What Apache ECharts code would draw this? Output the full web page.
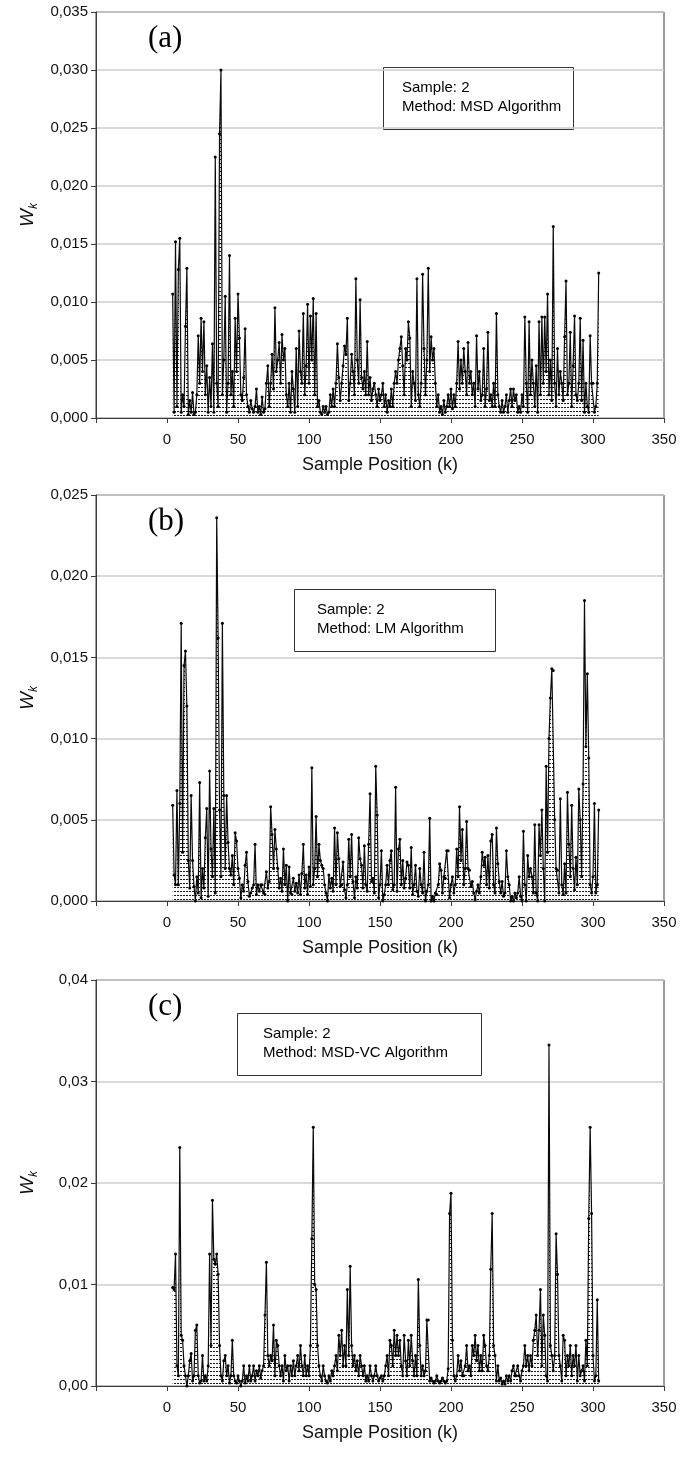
<!DOCTYPE html>
<html>
<head>
<meta charset="utf-8">
<script src="https://cdn.jsdelivr.net/npm/echarts@6/dist/echarts.min.js"></script>
<style>
  html, body { margin: 0; padding: 0; background: #fff; }
  #chart { width: 682px; height: 1458px; }
</style>
</head>
<body>
<div id="chart"></div>
<script>
// Sample positions run from K_START, one weight per sample.
const K_START = 4;

// Weights W_k in units of 1e-3, one value per sample position k = 4 .. 304.
const wkMsd = [
  10.7,0.5,15.2,1.0,12.8,15.5,0.5,2.0,1.0,7.9,
  12.9,0.3,1.5,0.5,2.2,0.3,0.5,2.0,7.1,3.0,
  8.6,4.0,8.3,2.0,4.5,0.5,3.5,1.0,6.4,0.5,
  22.5,3.0,1.0,24.5,30.0,2.0,5.0,10.5,0.5,3.0,
  14.0,2.0,4.0,1.0,8.6,4.0,10.7,6.9,2.0,1.5,
  3.5,7.7,2.0,1.0,0.5,1.5,0.8,0.5,1.0,2.5,
  0.5,1.0,0.3,1.8,0.5,0.8,3.0,4.5,1.0,3.0,
  5.5,2.5,9.5,4.0,5.0,6.5,3.0,7.2,5.0,6.0,
  2.0,1.0,3.0,0.5,4.0,2.5,0.5,6.0,1.0,7.5,
  4.0,3.0,9.0,2.0,4.5,9.8,3.0,8.8,5.0,10.3,
  2.0,9.0,1.0,1.5,0.5,0.3,1.0,0.5,1.0,0.3,
  0.5,2.0,1.0,2.5,1.0,3.0,6.4,3.5,1.5,3.0,
  4.5,6.2,5.5,8.6,1.5,3.0,5.5,4.0,2.0,12.0,
  5.0,3.0,10.2,3.5,2.5,4.0,2.0,6.6,2.0,3.5,
  1.5,2.5,3.0,2.0,1.0,2.5,1.5,2.0,3.0,1.0,
  2.0,0.5,1.5,1.0,2.5,1.0,3.0,4.0,3.0,5.0,
  6.0,7.0,4.5,2.0,6.0,5.0,8.3,6.9,1.0,4.0,
  3.0,1.5,12.0,2.0,1.0,3.0,12.4,6.0,2.0,5.0,
  12.9,4.0,7.0,5.0,6.0,3.0,1.0,2.0,0.5,1.0,
  0.3,1.5,0.5,1.0,2.0,1.0,2.5,0.8,2.0,1.0,
  3.0,6.6,2.5,5.0,3.0,6.0,4.0,2.0,6.5,3.0,
  4.0,2.0,3.0,1.0,7.1,2.5,4.0,1.5,2.0,6.0,
  1.0,2.5,7.4,1.5,2.0,1.0,3.0,1.0,9.0,2.0,
  1.0,0.5,1.5,0.5,1.0,2.0,0.5,1.5,2.5,1.0,
  2.5,1.5,2.0,0.5,1.0,0.5,2.0,1.0,8.7,3.0,
  0.5,8.3,2.0,5.0,3.0,1.0,4.5,0.5,8.3,2.0,
  8.7,3.0,8.7,4.0,10.7,2.0,5.0,1.5,16.5,3.0,
  1.0,6.0,2.0,4.0,3.0,1.5,7.0,11.8,2.0,3.0,
  7.4,1.0,4.5,8.8,2.0,1.5,3.0,8.6,1.5,6.7,
  0.5,3.0,1.0,0.5,7.1,3.0,3.0,0.5,1.0,3.0,
  12.5
];

const wkLm = [
  5.9,1.6,1.0,6.8,1.0,6.0,17.1,3.0,14.5,15.4,
  12.0,2.5,0.8,6.5,2.5,0.9,0.0,1.5,0.5,7.3,
  0.2,2.0,0.8,3.9,5.7,0.3,8.0,3.2,1.5,5.7,
  0.5,23.6,16.2,5.6,1.5,17.1,6.5,2.0,6.5,3.6,
  2.0,1.6,2.8,1.0,4.2,3.7,2.0,1.4,0.2,1.0,
  0.6,2.2,3.0,1.2,0.3,0.5,0.8,1.0,3.5,0.4,
  1.0,0.6,1.0,1.0,0.5,0.4,1.8,0.8,1.2,5.8,
  4.1,2.0,4.4,3.2,2.0,0.8,1.4,0.6,3.2,1.0,
  2.2,0.0,2.1,0.5,0.4,1.4,0.6,1.1,0.5,1.6,
  0.4,1.7,3.5,0.8,1.6,0.4,2.1,0.9,8.2,1.0,
  2.0,5.2,1.5,3.5,2.5,2.2,2.0,1.0,0.5,0.0,
  1.6,0.8,1.4,0.6,4.5,1.0,4.2,2.6,0.9,1.0,
  2.4,0.7,0.2,1.0,3.8,1.5,4.1,1.2,0.2,1.5,
  0.8,3.9,2.6,2.2,0.8,3.4,1.0,0.6,3.5,6.6,
  1.2,1.4,0.5,8.3,5.3,0.2,1.0,3.1,0.0,0.4,
  1.0,2.2,1.0,2.5,3.1,0.7,1.0,7.0,0.6,3.2,
  3.8,1.0,2.5,0.8,1.4,2.4,2.2,0.8,3.3,0.4,
  1.0,2.2,0.6,0.3,2.0,1.0,0.5,3.0,0.0,0.6,
  1.0,5.1,0.0,0.3,0.0,0.5,0.4,1.0,2.3,1.9,
  0.5,1.5,1.4,3.1,3.1,0.2,1.0,1.5,0.5,1.0,
  3.2,1.5,5.8,2.5,4.4,1.0,2.0,4.9,2.0,1.9,
  0.9,1.2,0.5,0.1,0.6,1.0,0.5,1.5,3.0,2.2,
  2.7,1.0,2.8,0.8,3.7,4.1,1.0,0.5,4.5,2.3,
  1.2,0.5,1.2,0.3,0.5,3.1,1.5,1.0,0.0,0.3,
  0.0,0.5,0.2,0.5,1.5,0.3,0.0,4.3,1.0,0.0,
  2.8,1.5,2.0,1.5,0.5,4.7,0.5,0.0,4.7,2.8,
  5.6,2.0,0.0,8.3,3.0,10.0,12.5,14.3,14.2,5.0,
  2.0,1.9,0.5,6.3,1.0,0.4,2.3,0.5,6.7,3.5,
  1.5,5.9,2.0,0.7,2.7,1.0,6.9,5.0,1.5,7.2,
  18.5,9.5,14.0,8.8,1.0,0.5,1.5,6.0,0.5,1.0,
  5.6
];

const wkMsdVc = [
  9.7,9.5,13.0,2.0,1.0,23.5,5.0,4.5,2.0,1.0,
  0.0,1.0,2.5,3.2,0.5,1.0,5.5,6.0,1.0,0.3,
  0.5,3.0,0.5,1.0,0.5,2.0,13.0,4.0,18.3,12.5,
  12.0,13.0,11.0,4.0,1.0,0.5,2.5,3.0,1.0,2.0,
  0.3,1.0,4.5,1.0,0.5,0.3,1.0,0.5,0.0,0.5,
  2.0,0.3,1.0,0.5,2.0,0.5,1.0,2.0,0.5,1.5,
  1.0,2.0,0.8,1.5,2.0,7.0,12.2,3.0,2.0,3.0,
  2.5,6.0,1.0,4.5,4.0,2.0,1.0,2.0,0.5,3.0,
  1.5,2.0,0.5,2.0,1.0,2.5,1.0,2.0,3.0,1.5,
  4.0,2.0,1.0,3.0,1.0,2.0,1.0,4.0,14.5,25.5,
  10.0,9.5,4.0,2.0,1.0,0.5,2.0,1.0,0.5,0.3,
  1.0,0.5,1.5,1.0,2.0,3.0,1.5,5.0,3.0,5.5,
  2.0,4.0,2.0,9.5,3.0,11.8,4.0,2.0,3.0,1.5,
  2.5,1.0,3.0,2.0,1.0,2.0,0.5,1.0,0.5,2.0,
  1.0,0.5,1.0,2.0,1.0,0.5,0.8,1.0,0.5,1.0,
  2.0,3.0,1.0,4.5,4.0,2.0,5.5,3.0,5.0,3.0,
  4.5,2.0,1.0,5.0,2.5,1.0,4.5,2.0,5.0,2.5,
  1.0,3.0,1.0,10.5,4.0,1.0,2.0,1.0,1.5,6.5,
  6.5,0.5,0.8,0.5,0.3,0.5,1.0,0.5,0.3,0.5,
  0.8,0.5,0.3,0.5,1.7,17.0,19.0,4.5,1.0,0.5,
  1.0,3.0,1.5,2.5,1.0,1.0,2.0,4.0,1.5,2.0,
  1.0,4.0,3.0,5.0,2.5,4.0,1.5,3.0,1.5,5.0,
  4.0,2.0,1.5,3.0,11.5,17.0,4.0,3.0,0.5,2.0,
  0.5,0.8,0.2,0.5,0.2,1.0,0.5,1.0,0.5,1.5,
  2.0,1.0,1.0,2.0,1.0,0.5,1.5,2.0,4.0,2.0,
  3.0,1.5,3.0,2.0,4.5,5.5,7.0,3.0,5.5,9.5,
  2.0,7.0,5.0,1.0,0.5,33.6,4.0,3.0,1.5,3.0,
  15.0,11.0,3.0,2.0,0.5,5.0,4.5,1.0,3.0,2.0,
  4.0,1.0,3.0,2.0,4.0,0.5,3.0,1.0,1.5,2.0,
  0.5,4.5,2.0,16.5,25.5,17.0,3.0,0.5,1.0,8.5,
  0.5
];

// Per-panel settings: tag, method name, y range (units of 1e-3), tick step, label decimals.
const panelTags = ['(a)', '(b)', '(c)'];
const methodNames = ['MSD Algorithm', 'LM Algorithm', 'MSD-VC Algorithm'];
const sampleId = 2;
const yMaxes = [35, 25, 40];
const ySteps = [5, 5, 10];
const yDecimals = [3, 3, 2];
const xMin = -50, xMax = 350, xStep = 50;
const seriesValues = [wkMsd, wkLm, wkMsdVc];

// Layout of the three stacked plots (pixels).
const GRID_LEFT = 96, GRID_RIGHT = 18, GRID_H = 406;
const gridTops = [12, 495, 980];
const legendBoxes = [
  { x: 383, y: 67, w: 190, h: 62, tx: 402 },
  { x: 294, y: 589, w: 201, h: 62, tx: 317 },
  { x: 237, y: 1013, w: 244, h: 62, tx: 263 }
];

const SANS = '"Liberation Sans", Arial, Helvetica, sans-serif';
const SERIF = '"Liberation Serif", "Times New Roman", serif';

// Horizontal dashed hatching used to fill under each curve.
function hatchPattern() {
  const c = document.createElement('canvas');
  c.width = 3; c.height = 4;
  const g = c.getContext('2d');
  g.fillStyle = '#1a1a1a';
  g.fillRect(0, 3, 2, 1);
  return c;
}
const hatch = hatchPattern();

const grids = [], xAxes = [], yAxes = [], series = [], graphics = [];

for (let i = 0; i < 3; i++) {
  grids.push({
    left: GRID_LEFT, right: GRID_RIGHT, top: gridTops[i], height: GRID_H,
    show: true, borderColor: '#3a3a3a', borderWidth: 1, backgroundColor: 'transparent'
  });

  xAxes.push({
    gridIndex: i, type: 'value', min: xMin, max: xMax, interval: xStep,
    axisLine: { show: true, onZero: false, lineStyle: { color: '#3a3a3a', width: 1 } },
    axisTick: { show: true, inside: false, length: 5, lineStyle: { color: '#3a3a3a' } },
    axisLabel: {
      margin: 14, fontSize: 15, color: '#111', fontFamily: SANS,
      formatter: v => (v < 0 ? '' : String(v))
    },
    splitLine: { show: false },
    name: 'Sample Position (k)', nameLocation: 'middle', nameGap: 38,
    nameTextStyle: { fontSize: 18, color: '#111', fontFamily: SANS }
  });

  const dec = yDecimals[i];
  yAxes.push({
    gridIndex: i, type: 'value', min: 0, max: yMaxes[i], interval: ySteps[i],
    axisLine: { show: true, onZero: false, lineStyle: { color: '#3a3a3a', width: 1 } },
    axisTick: { show: true, inside: false, length: 5, lineStyle: { color: '#3a3a3a' } },
    axisLabel: {
      margin: 8, fontSize: 15, color: '#111', fontFamily: SANS,
      formatter: v => (v / 1000).toFixed(dec).replace('.', ',')
    },
    splitLine: { show: true, lineStyle: { color: '#cdcdcd', width: 1.5 } },
    name: '{w|W}{s|k}', nameLocation: 'middle', nameGap: 56, nameRotate: 90,
    nameTextStyle: {
      rich: {
        w: { fontSize: 19, fontStyle: 'italic', fontFamily: SANS, color: '#111', lineHeight: 24, verticalAlign: 'middle' },
        s: { fontSize: 12, fontStyle: 'italic', fontFamily: SANS, color: '#111', lineHeight: 12, verticalAlign: 'bottom' }
      }
    }
  });

  series.push({
    type: 'line', xAxisIndex: i, yAxisIndex: i,
    data: seriesValues[i].map((v, j) => [K_START + j, v]),
    symbol: 'circle', symbolSize: 3, showAllSymbol: true,
    lineStyle: { color: '#0a0a0a', width: 1.2 },
    itemStyle: { color: '#000' },
    areaStyle: { color: { image: hatch, repeat: 'repeat' }, opacity: 1 },
    animation: false
  });

  graphics.push({
    type: 'text', left: 148, top: gridTops[i] + 11, z: 100,
    style: { text: panelTags[i], font: '31px ' + SERIF, fill: '#000' }
  });

  const b = legendBoxes[i];
  graphics.push({
    type: 'group', z: 100,
    children: [
      { type: 'rect', shape: { x: b.x + 0.5, y: b.y + 0.5, width: b.w, height: b.h },
        style: { fill: '#fff', stroke: '#333', lineWidth: 1 } },
      { type: 'text', x: b.tx, y: b.y + 21,
        style: { text: 'Sample: ' + sampleId, font: '15px ' + SANS, fill: '#000', textVerticalAlign: 'middle' } },
      { type: 'text', x: b.tx, y: b.y + 40,
        style: { text: 'Method: ' + methodNames[i], font: '15px ' + SANS, fill: '#000', textVerticalAlign: 'middle' } }
    ]
  });
}

const chart = echarts.init(document.getElementById('chart'), null, { renderer: 'canvas' });
chart.setOption({
  backgroundColor: '#fff',
  animation: false,
  grid: grids,
  xAxis: xAxes,
  yAxis: yAxes,
  series: series,
  graphic: graphics
});
</script>
</body>
</html>
